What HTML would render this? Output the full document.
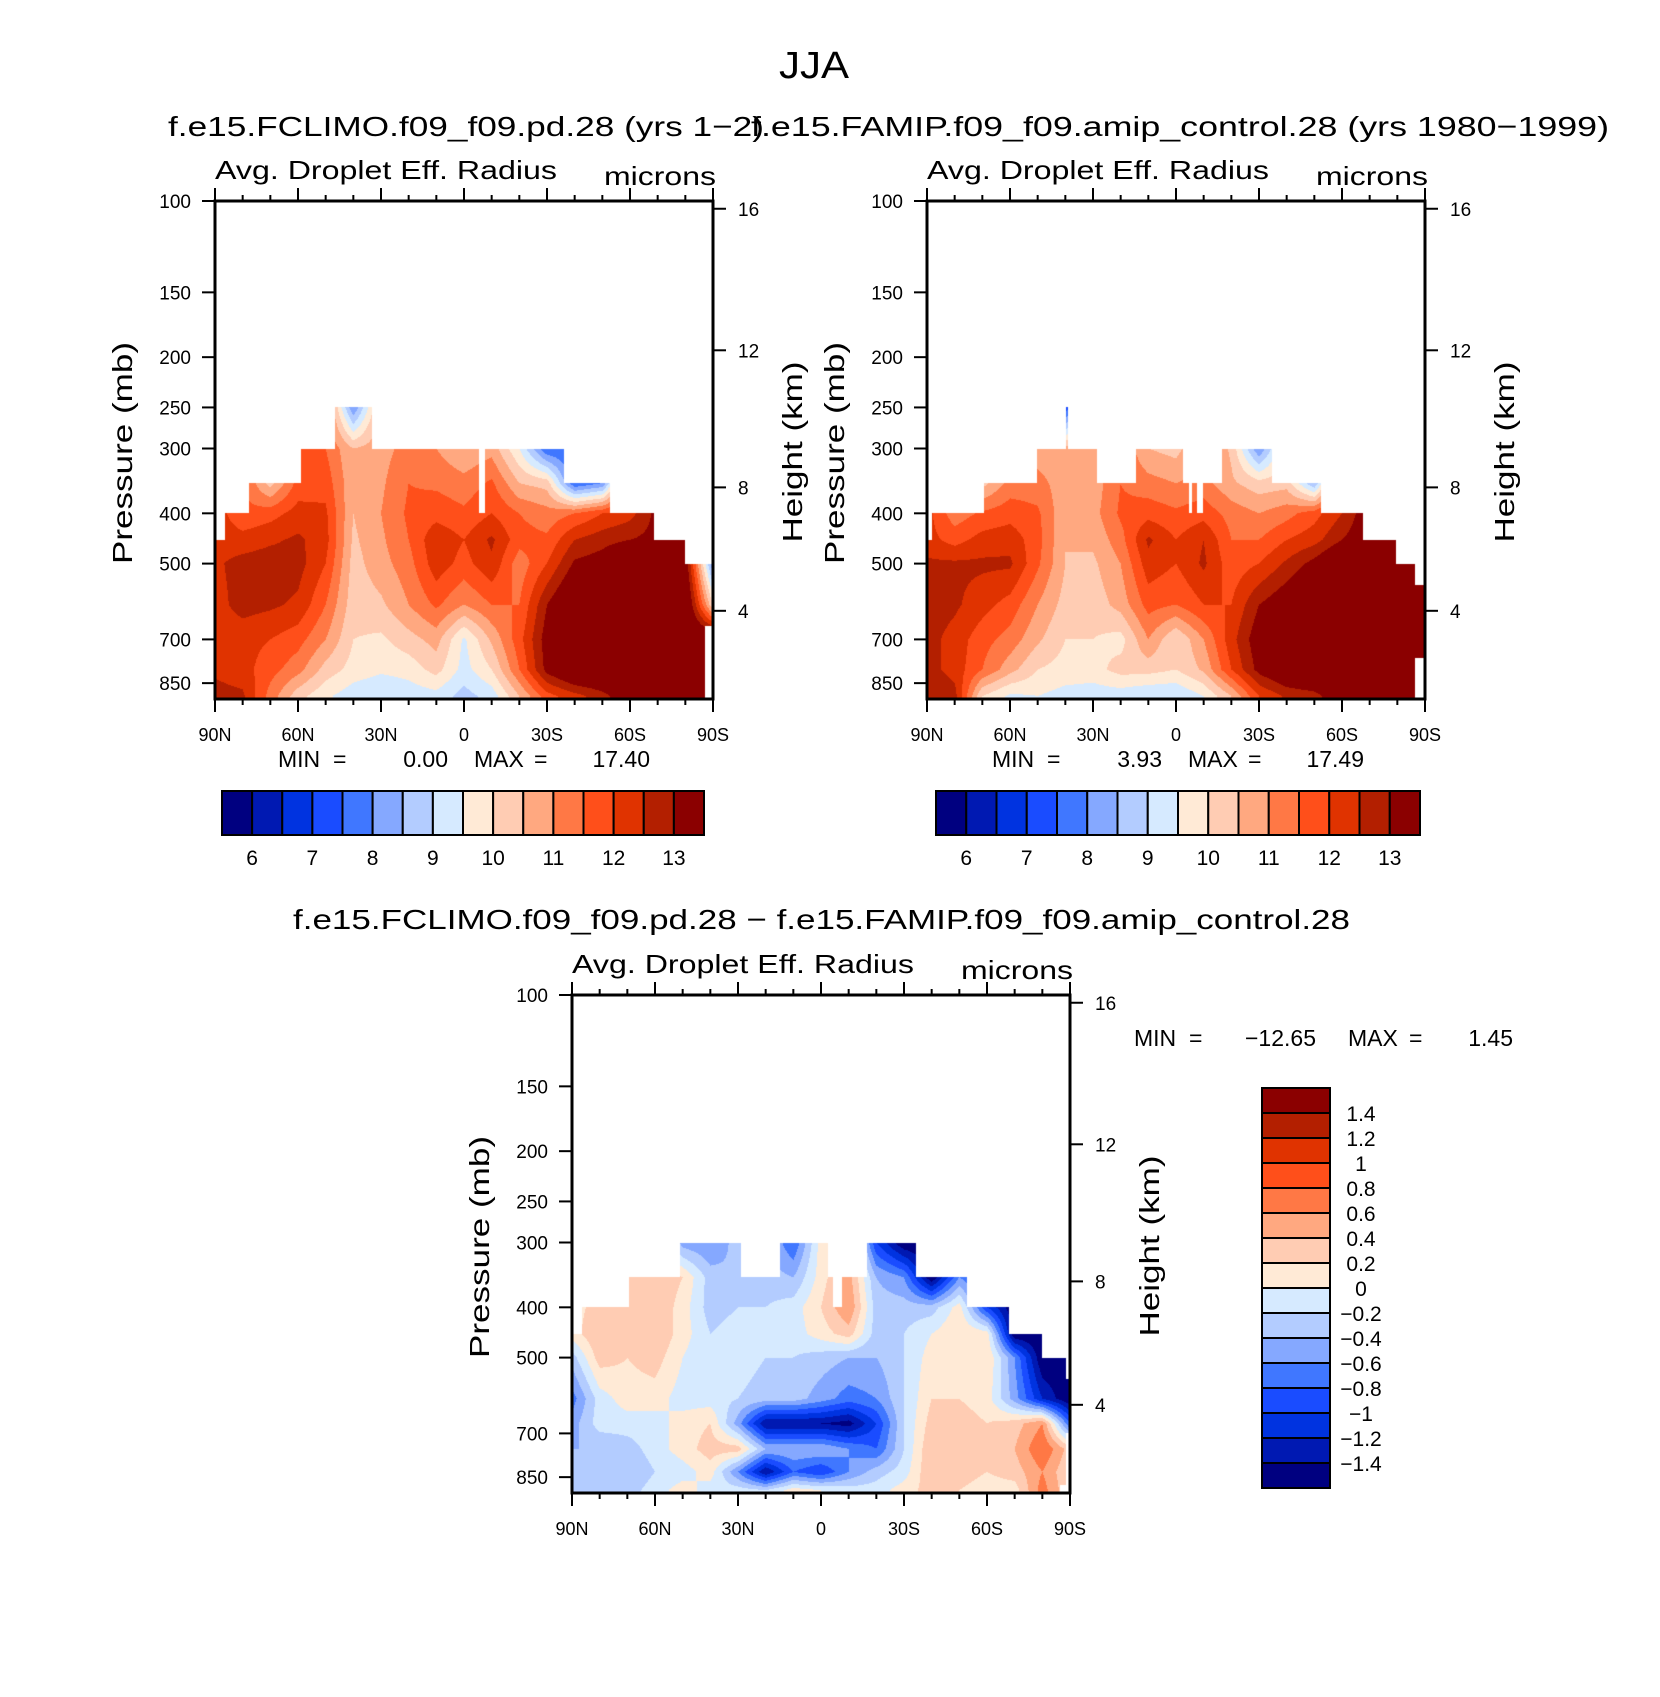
<!DOCTYPE html>
<html><head><meta charset="utf-8"><title>JJA Droplet Effective Radius</title>
<style>
html,body{margin:0;padding:0;background:#fff;}
#root{position:relative;width:1660px;height:1697px;overflow:hidden;background:#fff;}
canvas{position:absolute;}
svg{position:absolute;left:0;top:0;}
text{font-family:"Liberation Sans",sans-serif;fill:#000;}
</style></head>
<body>
<div id="root">
<canvas id="c1" width="498" height="498" style="left:215px;top:201px"></canvas>
<canvas id="c2" width="498" height="498" style="left:927px;top:201px"></canvas>
<canvas id="c3" width="498" height="498" style="left:572px;top:995px"></canvas>
<svg id="svg" width="1660" height="1697">
<text x="814" y="78" font-size="38" text-anchor="middle" textLength="70" lengthAdjust="spacingAndGlyphs">JJA</text>
<text x="168" y="136" font-size="28" textLength="596" lengthAdjust="spacingAndGlyphs">f.e15.FCLIMO.f09_f09.pd.28 (yrs 1−2)</text>
<text x="751" y="136" font-size="28" textLength="858" lengthAdjust="spacingAndGlyphs">f.e15.FAMIP.f09_f09.amip_control.28 (yrs 1980−1999)</text>
<text x="293" y="929" font-size="28" textLength="1057" lengthAdjust="spacingAndGlyphs">f.e15.FCLIMO.f09_f09.pd.28 − f.e15.FAMIP.f09_f09.amip_control.28</text>
</svg>
</div>
<script>
// ---------- data ----------
var presTicks = [100,150,200,250,300,400,500,700,850];
var heightTicks = [16,12,8,4];
var heightTickPres = [103.5,194,356.5,616.6];
var latTicks = [90,60,30,0,-30,-60,-90];
var latTickLabels = ["90N","60N","30N","0","30S","60S","90S"];
var colLats = [90,80,70,60,50,40,30,20,10,0,-10,-20,-30,-40,-50,-60,-70,-80,-90];
var rowsTop = [250,300,350,400,450,500,600,700,800,900];
var rowsDiff = [250,300,350,400,450,500,600,670,750,830,900];
var palette = ["#000080","#0019b2","#0033e0","#1a4cff","#4077ff","#85a8ff","#b3ccff","#d6eaff","#ffead6","#ffccb3","#ffa880","#ff7845","#ff4f1a","#e03300","#b31f00","#8b0000"];
var levelsTop = [6,6.5,7,7.5,8,8.5,9,9.5,10,10.5,11,11.5,12,12.5,13];
var levelsTopLabels = ["6","7","8","9","10","11","12","13"];
var levelsDiff = [-1.4,-1.2,-1,-0.8,-0.6,-0.4,-0.2,0,0.2,0.4,0.6,0.8,1,1.2,1.4];
var levelsDiffLabels = ["−1.4","−1.2","−1","−0.8","−0.6","−0.4","−0.2","0","0.2","0.4","0.6","0.8","1","1.2","1.4"];
var n = null;
var climoCols = [
[n,n,n,n,12.3,12.4,12.3,12.2,12.4,12.7],
[n,n,n,11.6,12.2,12.7,12.7,12.2,12.2,12.6],
[n,n,10.3,11.8,12.4,12.8,12.6,12.0,11.7,11.3],
[n,n,11.7,12.2,12.6,12.7,12.4,11.7,11.2,10.2],
[n,11.5,11.8,12.1,12.2,12.0,11.5,11.0,10.3,9.6],
[8.0,10.5,10.6,10.5,10.4,10.3,10.2,10.0,9.8,9.2],
[n,10.8,10.9,11.0,10.9,10.8,10.4,9.9,9.6,9.0],
[n,11.2,11.5,11.6,11.5,11.3,11.0,10.3,9.7,9.2],
[n,11.0,11.4,11.8,12.4,12.3,11.6,10.7,10.2,9.3],
[n,10.5,11.2,11.6,12.0,11.8,11.0,9.4,9.3,8.8],
[n,10.8,11.6,12.0,12.6,12.4,11.5,10.6,10.0,9.2],
[n,9.5,10.5,11.5,11.7,11.2,11.5,11.8,11.5,10.5],
[n,7.5,10.3,11.2,11.6,12.0,13.0,13.3,13.2,11.8],
[n,n,7.5,11.5,12.5,13.1,14,14,14,12.3],
[n,n,8.0,12.0,12.8,13.3,14,14,14,12.8],
[n,n,n,12.3,13.0,14,14,14,14,13.5],
[n,n,n,n,13.2,14,14,14,14,14],
[n,n,n,n,n,13.5,14,14,14,14],
[n,n,n,n,n,8.0,10,14,14,14]];
var amipCols = [
[n,n,n,n,12.2,12.6,12.8,12.7,12.7,13],
[n,n,n,11.2,11.8,12.6,12.6,12.3,12.3,12.7],
[n,n,10.3,11.6,12.2,12.6,12.2,11.7,11.5,10.0],
[n,n,11.2,11.8,12.3,12.6,11.8,11.3,10.7,9.4],
[n,10.7,11.2,11.6,11.7,11.6,11.0,10.6,10.0,9.5],
[7,10.7,10.7,10.6,10.5,10.5,10.3,10.0,9.8,9.3],
[n,10.6,10.7,10.8,10.6,10.4,10.2,10.0,9.8,9.2],
[n,n,11.5,11.6,11.3,11.0,10.7,9.8,10.2,9.2],
[n,10.5,11.2,11.8,12.6,12.3,11.7,11.0,10.2,9.0],
[n,10.3,11.0,11.6,12.0,12.0,11.5,10.0,10.0,9.0],
[n,n,11.2,11.8,12.5,12.6,12.0,11.0,10.6,9.5],
[n,10.4,10.6,11.3,11.5,11.7,12.0,12.3,12.0,10.5],
[n,8.0,10.2,11.0,11.5,12.0,13.0,13.4,13.2,12.0],
[n,n,10.3,11.3,12.0,12.6,13.5,14,13.8,12.6],
[n,n,8.5,11.8,12.3,13.2,14,14,14,12.8],
[n,n,n,12.5,13.0,14,14,14,14,13.5],
[n,n,n,n,13.5,14,14,14,14,14],
[n,n,n,n,n,14,14,14,14,14],
[n,n,n,n,n,14,14,14,14,14]];
var diffCols = [
[n,n,n,n,0.1,-0.3,-0.7,-0.5,-0.4,-0.3,-0.2],
[n,n,n,0.3,0.4,0.3,-0.1,-0.1,-0.4,-0.4,-0.3],
[n,n,0.2,0.4,0.3,0.2,0.1,-0.1,-0.3,-0.4,-0.3],
[n,n,0.4,0.4,0.4,0.3,0.1,-0.1,-0.1,-0.2,-0.1],
[n,-0.5,0.2,0.1,0.1,0.0,-0.1,0.1,0.1,-0.1,0.1],
[n,-0.6,-0.3,-0.3,-0.2,-0.2,-0.1,0.2,0.3,0.1,-0.1],
[n,-0.3,-0.4,-0.2,-0.1,-0.1,-0.2,-0.5,0.3,-0.6,-0.1],
[n,n,-0.3,-0.2,-0.2,-0.2,-0.3,-1.4,-0.4,-1.4,-0.2],
[n,-0.8,-0.4,-0.1,-0.1,-0.2,-0.3,-1.4,-0.4,-0.8,0.1],
[n,0.1,0.1,0.2,0.1,-0.3,-0.5,-1.4,-0.4,-1.0,0.0],
[n,n,0.5,0.6,0.3,-0.4,-0.7,-1.5,-0.6,-0.6,-0.1],
[n,-1.0,-0.4,-0.3,-0.3,-0.4,-0.6,-1.0,-0.8,-0.3,-0.1],
[n,-1.6,-0.6,-0.3,-0.2,-0.2,-0.2,-0.2,-0.2,-0.1,0.1],
[n,n,-1.6,-0.3,0.0,0.1,0.2,0.3,0.4,0.4,0.3],
[n,n,-0.6,0.1,0.2,0.2,0.2,0.3,0.3,0.3,0.2],
[n,n,n,-1.0,0.1,0.2,0.1,0.2,0.3,0.2,0.1],
[n,n,n,n,-1.6,-0.6,-0.5,0.3,0.4,0.3,0.1],
[n,n,n,n,n,-1.6,-1.2,0.6,0.8,0.6,0.7],
[n,n,n,n,n,-1.6,-1.6,-0.8,0.3,0.2,0.2]];
// data masks: segment north-edge latitude, top pressure, bottom pressure
var climoSegLat = [90,86.3,77.7,58.8,46.6,33.1,-5.6,-7.7,-36.3,-52.8,-68.5,-80,-87.1];
var climoSegTop = [450,400,350,300,250,300,400,300,350,400,450,500,500];
var climoSegBot = [1000,1000,1000,1000,1000,1000,1000,1000,1000,1000,1000,1000,660];
var amipSegLat = [90,88.3,69.3,50.3,39.9,39.0,28.4,14.6,-2.7,-4.7,-5.9,-7.6,-9.8,-16.8,-34.7,-52.3,-67.5,-79.6,-86.5];
var amipSegTop = [450,400,350,300,250,300,350,300,350,400,350,400,350,300,350,400,450,500,550];
var amipSegBot = [1000,1000,1000,1000,1000,1000,1000,1000,1000,1000,1000,1000,1000,1000,1000,1000,1000,1000,760];
var diffSegLat = [90,86.4,69.5,50.8,29.0,14.7,-2.7,-4.4,-7.6,-16.6,-34.5,-52.8,-67.8,-80,-86.5,-88.6];
var diffSegTop = [450,400,350,300,350,300,350,400,350,300,350,400,450,500,500,550];
var diffSegBot = [1000,1000,1000,1000,1000,1000,1000,1000,1000,1000,1000,1000,1000,1000,880,700];

// ---------- axis functions ----------
var SIZE = 498, LOGSPAN = 0.96;
function yOfP(p){ return (Math.log10(p)-2)/LOGSPAN*SIZE; }
function pOfY(y){ return Math.pow(10, 2 + y/SIZE*LOGSPAN); }
function xOfLat(l){ return (90-l)/180*SIZE; }
function latOfX(x){ return 90 - x/SIZE*180; }
function hexRGB(h){ return [parseInt(h.substr(1,2),16),parseInt(h.substr(3,2),16),parseInt(h.substr(5,2),16)]; }
var palRGB = palette.map(hexRGB);

function fillCols(cols){
  return cols.map(function(c){
    var out = c.slice();
    for (var i=out.length-1;i>=0;i--){ if(out[i]===null) out[i] = (i<out.length-1? out[i+1] : 0); }
    return out;
  });
}
function interp(cols, rows, lat, p){
  var ci = (90-lat)/10; var c0 = Math.max(0,Math.min(colLats.length-2,Math.floor(ci))); var fc = Math.min(1,Math.max(0,ci-c0));
  var lp = Math.log(p), r0 = 0, fr = 0;
  if (p <= rows[0]) { r0 = 0; fr = 0; }
  else if (p >= rows[rows.length-1]) { r0 = rows.length-2; fr = 1; }
  else { while (r0 < rows.length-2 && rows[r0+1] < p) r0++;
    fr = (lp-Math.log(rows[r0]))/(Math.log(rows[r0+1])-Math.log(rows[r0])); }
  var a = cols[c0][r0]*(1-fr)+cols[c0][r0+1]*fr;
  var b = cols[c0+1][r0]*(1-fr)+cols[c0+1][r0+1]*fr;
  return a*(1-fc)+b*fc;
}
function binOf(v, lev){ var k=0; while(k<lev.length && v>=lev[k]) k++; return k; }
function drawField(id, cols, rows, lev, segLat, segTop, segBot){
  var cv = document.getElementById(id), ctx = cv.getContext('2d');
  var img = ctx.createImageData(SIZE, SIZE), d = img.data;
  var fc = fillCols(cols);
  for (var x=0;x<SIZE;x++){
    var lat = latOfX(x+0.5), s = 0;
    while (s < segLat.length-1 && lat < segLat[s+1]) s++;
    var top = segTop[s], bot = segBot[s];
    for (var y=0;y<SIZE;y++){
      var p = pOfY(y+0.5);
      if (p < top || p > bot) continue;
      var v = interp(fc, rows, lat, p);
      var rgb = palRGB[binOf(v, lev)];
      var o = (y*SIZE+x)*4; d[o]=rgb[0]; d[o+1]=rgb[1]; d[o+2]=rgb[2]; d[o+3]=255;
    }
  }
  ctx.putImageData(img,0,0);
}
drawField('c1', climoCols, rowsTop, levelsTop, climoSegLat, climoSegTop, climoSegBot);
drawField('c2', amipCols, rowsTop, levelsTop, amipSegLat, amipSegTop, amipSegBot);
drawField('c3', diffCols, rowsDiff, levelsDiff, diffSegLat, diffSegTop, diffSegBot);

// ---------- SVG axes ----------
var NS = "http://www.w3.org/2000/svg", svg = document.getElementById('svg');
function mk(tag, attrs, parent){ var e=document.createElementNS(NS,tag); for (var k in attrs) e.setAttribute(k, attrs[k]); (parent||svg).appendChild(e); return e; }
function txt(x,y,s,size,anchor,parent){ var t = mk('text',{x:x,y:y,'font-size':size,'text-anchor':anchor||'start'},parent); t.textContent=s; return t; }

function drawAxes(pfx, X0, Y0){
  var g = mk('g',{});
  
  
  var f = mk('rect',{x:X0,y:Y0,width:SIZE,height:SIZE,fill:'none',stroke:'#000','stroke-width':3},g);
  
  
  for (var l=90;l>=-90;l-=10){
    var x = X0 + xOfLat(l), major = (l%30===0), len = major?13:6;
    mk('line',{x1:x,y1:Y0,x2:x,y2:Y0-len,stroke:'#000','stroke-width':2},g);
    mk('line',{x1:x,y1:Y0+SIZE,x2:x,y2:Y0+SIZE+len,stroke:'#000','stroke-width':2},g);
  }
  for (var i=0;i<latTicks.length;i++){
    var t = txt(X0+xOfLat(latTicks[i]), Y0+SIZE+42, latTickLabels[i], 18, 'middle', g);
    
    
  }
  for (i=0;i<presTicks.length;i++){
    var y = Y0 + yOfP(presTicks[i]);
    mk('line',{x1:X0,y1:y,x2:X0-13,y2:y,stroke:'#000','stroke-width':2},g);
    var t2 = txt(X0-24, y+7, String(presTicks[i]), 19, 'end', g);
    
    
  }
  for (i=0;i<heightTicks.length;i++){
    var yh = Y0 + yOfP(heightTickPres[i]);
    mk('line',{x1:X0+SIZE,y1:yh,x2:X0+SIZE+13,y2:yh,stroke:'#000','stroke-width':2},g);
    var t3 = txt(X0+SIZE+25, yh+7, String(heightTicks[i]), 19, 'start', g);
    
    
  }
  var a = txt(X0, Y0-22, "Avg. Droplet Eff. Radius", 26, 'start', g);
  a.setAttribute('textLength', 342); a.setAttribute('lengthAdjust','spacingAndGlyphs');
  
  
  var m = txt(X0+SIZE+3, Y0-16, "microns", 26, 'end', g);
  m.setAttribute('textLength', 112); m.setAttribute('lengthAdjust','spacingAndGlyphs');
  
  
  var pl = txt(0,0,"Pressure (mb)",28,'middle',g);
  pl.setAttribute('transform','translate('+(X0-83)+','+(Y0+252)+') rotate(-90)');
  pl.setAttribute('textLength', 222); pl.setAttribute('lengthAdjust','spacingAndGlyphs');
  
  
  var hl = txt(0,0,"Height (km)",28,'middle',g);
  hl.setAttribute('transform','translate('+(X0+SIZE+89)+','+(Y0+251)+') rotate(-90)');
  hl.setAttribute('textLength', 181); hl.setAttribute('lengthAdjust','spacingAndGlyphs');
  
  
}
drawAxes('climo', 215, 201);
drawAxes('amip', 927, 201);
drawAxes('diff', 572, 995);

function minmax(pfx, x, y, parts){
  var g = mk('g',{});
  
  
  for (var i=0;i<parts.length;i++){ txt(x+parts[i][0], y, parts[i][1], 23, parts[i][2]||'start', g); }
}
minmax('climo', 278, 767, [[0,"MIN"],[55,"="],[170,"0.00",'end'],[196,"MAX"],[256,"="],[372,"17.40",'end']]);
minmax('amip', 992, 767, [[0,"MIN"],[55,"="],[170,"3.93",'end'],[196,"MAX"],[256,"="],[372,"17.49",'end']]);
minmax('diff', 1134, 1046, [[0,"MIN"],[55,"="],[182,"−12.65",'end'],[214,"MAX"],[275,"="],[379,"1.45",'end']]);

function hbar(pfx, X0, X1, Y0, Y1){
  var g = mk('g',{});
  
  
  var w = (X1-X0)/palette.length;
  for (var i=0;i<palette.length;i++){
    var r = mk('rect',{x:X0+i*w,y:Y0,width:w,height:Y1-Y0,fill:palette[i],stroke:'#000','stroke-width':2},g);
    
    
  }
  for (var j=0;j<levelsTopLabels.length;j++){
    var t = txt(X0+(2*j+1)*w, Y1+30, levelsTopLabels[j], 21, 'middle', g);
    
    
  }
}
hbar('climo', 222, 704, 791, 835);
hbar('amip', 936, 1420, 791, 835);

(function(){
  var g = mk('g',{});
  
  
  var X0=1262, X1=1330, Y0=1088, h=25;
  for (var i=0;i<palette.length;i++){
    var r = mk('rect',{x:X0,y:Y0+i*h,width:X1-X0,height:h,fill:palette[palette.length-1-i],stroke:'#000','stroke-width':2},g);
    
    
  }
  for (var j=0;j<levelsDiffLabels.length;j++){
    var lab = levelsDiffLabels[levelsDiffLabels.length-1-j];
    var t = txt(1361, Y0+(j+1)*h+8, lab, 21, 'middle', g);
    
    
  }
})();
</script>
</body></html>
